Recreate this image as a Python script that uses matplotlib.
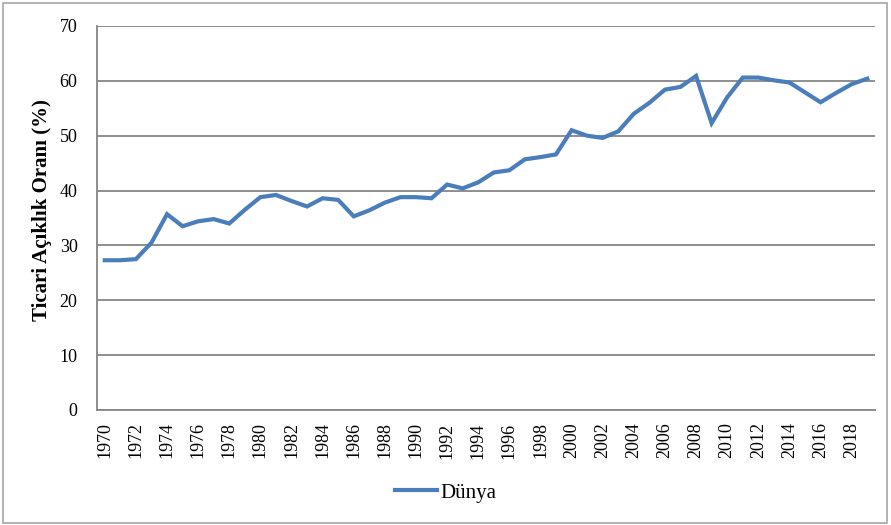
import numpy as np
import matplotlib.pyplot as plt
from matplotlib.patches import Rectangle

# Dünya ticari açıklık oranı (%), 1970-2019
years = np.arange(1970, 2020)
dunya = [27.3, 27.3, 27.5, 30.5, 35.7, 33.5, 34.4, 34.8, 34.0, 36.5,
         38.8, 39.2, 38.1, 37.1, 38.6, 38.3, 35.3, 36.4, 37.8, 38.8,
         38.8, 38.6, 41.1, 40.4, 41.5, 43.3, 43.7, 45.7, 46.1, 46.6,
         51.0, 50.0, 49.6, 50.8, 54.0, 56.0, 58.4, 58.9, 60.9, 52.3,
         57.0, 60.6, 60.6, 60.1, 59.7, 57.9, 56.1, 57.8, 59.4, 60.4]
tick_years = years[::2]

plt.rcParams['font.family'] = ['Liberation Serif', 'DejaVu Serif']

fig = plt.figure(figsize=(8.91, 5.25), dpi=100)
ax = fig.add_axes([97/891, 1 - 410/525, (875 - 97)/891, (410 - 26)/525])

x = np.arange(len(years))
ax.plot(x, dunya, color='#4a7ebb', linewidth=3, label='Dünya',
        solid_joinstyle='miter')

ax.set_xlim(-0.5, len(years) - 0.5)
ax.set_ylim(0, 70)
ax.set_yticks(np.arange(0, 71, 10))
ax.set_xticks(x[::2])
ax.set_xticklabels([str(y) for y in tick_years], rotation=90)
ax.tick_params(axis='both', length=0, labelsize=13, colors='#000000')
ax.tick_params(axis='y', pad=14)
ax.tick_params(axis='x', pad=9)

ax.grid(axis='y', color='#868686', linewidth=1.3)
ax.set_axisbelow(True)
for s in ['top', 'right']:
    ax.spines[s].set_visible(False)
for s in ['left', 'bottom']:
    ax.spines[s].set_color('#868686')
    ax.spines[s].set_linewidth(1.3)

ax.set_ylabel('Ticari Açıklık Oranı (%)', fontsize=15, fontweight='bold')
ax.yaxis.set_label_coords(-0.058, 0.52)

leg = ax.legend(loc='center', bbox_to_anchor=(0.5, 1 - 493/525),
                bbox_transform=fig.transFigure, frameon=False, fontsize=15,
                handlelength=2.0, handletextpad=0.15)

# çerçeve
fig.patches.append(Rectangle((3/891, 2/525), 884/891, 520/525,
                             transform=fig.transFigure, fill=False,
                             edgecolor='#a6a6a6', linewidth=1.2))

fig.savefig('out.png', dpi=100)
